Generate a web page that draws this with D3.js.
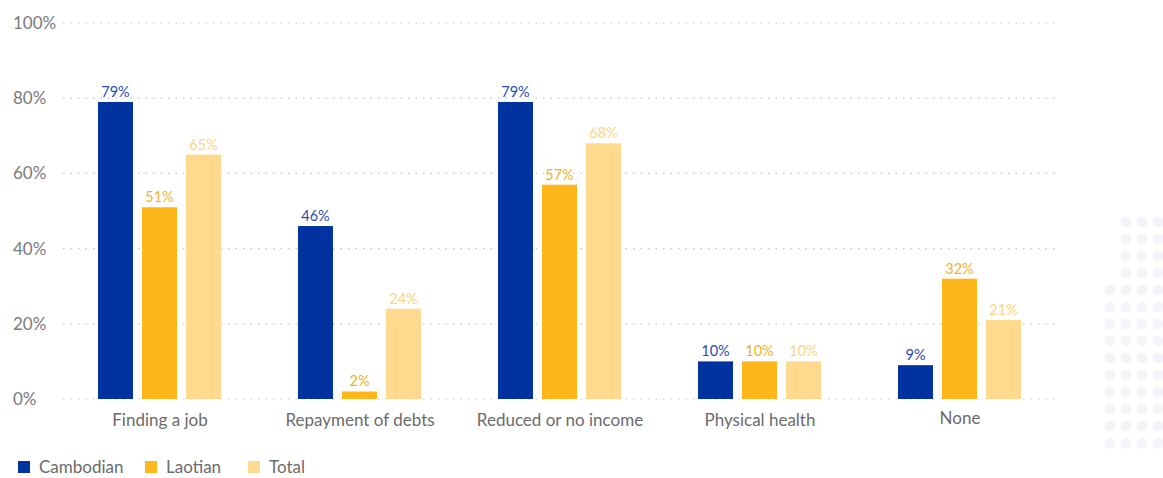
<!DOCTYPE html>
<html>
<head>
<meta charset="utf-8">
<script src="https://cdn.jsdelivr.net/npm/d3@7"></script>
<style>
  body { margin: 0; background: #fff; }
  svg text { font-family: "Lato", "Open Sans", sans-serif; }
</style>
</head>
<body>
<div id="chart"></div>
<script>
// chart data
const categories = ['Finding a job', 'Repayment of debts', 'Reduced or no income', 'Physical health', 'None'];
const seriesNames = ['Cambodian', 'Laotian', 'Total'];
const cambodian = [79, 46, 79, 10, 9];
const laotian = [51, 2, 57, 10, 32];
const total = [65, 24, 68, 10, 21];
const yTicks = [0, 20, 40, 60, 80, 100];

const colors = ['#0033a0', '#fdb71a', '#fed98e'];
const labelColors = ['#2a4db0', '#f5b21c', '#fdd47f'];

let drawChart = function () {
    const w = 1163, h = 478;
    const svg = d3.select('#chart').append('svg')
        .attr('width', w)
        .attr('height', h);

    // faint decorative dot pattern, bottom right
    const deco = svg.append('g');
    d3.range(14).forEach(function (r) {
        d3.range(4).forEach(function (c) {
            if (r < 4 && c < 1) return;
            deco.append('circle')
                .attr('cx', 1110 + c * 16)
                .attr('cy', 222 + r * 17)
                .attr('r', 5.5)
                .attr('fill', '#f4f4f9');
        });
    });

    const x = d3.scaleBand()
        .domain(categories)
        .range([60, 1060]);

    const y = d3.scaleLinear()
        .domain([0, 100])
        .range([399, 23]);

    const xs = d3.scaleBand()
        .domain(seriesNames)
        .range([38, 161])
        .paddingInner(9 / 44);

    // gridlines
    svg.append('g')
        .selectAll('line')
        .data(yTicks)
        .enter()
        .append('line')
        .attr('x1', 63)
        .attr('x2', 1055)
        .attr('y1', d => y(d))
        .attr('y2', d => y(d))
        .attr('stroke', '#c8c8c8')
        .attr('stroke-width', 1.2)
        .attr('stroke-dasharray', '1.5,6');

    // y tick labels
    svg.append('g')
        .selectAll('text')
        .data(yTicks)
        .enter()
        .append('text')
        .attr('x', 13)
        .attr('y', d => y(d))
        .attr('dy', '0.35em')
        .attr('fill', '#7a7a7a')
        .style('font-size', '17px')
        .text(d => d + '%');

    const series = [cambodian, laotian, total];

    series.forEach(function (vals, si) {
        const g = svg.append('g');
        g.selectAll('rect')
            .data(vals)
            .enter()
            .append('rect')
            .attr('x', (d, i) => x(categories[i]) + xs(seriesNames[si]))
            .attr('y', d => y(d))
            .attr('width', xs.bandwidth())
            .attr('height', d => y(0) - y(d))
            .attr('fill', colors[si]);

        g.selectAll('text')
            .data(vals)
            .enter()
            .append('text')
            .attr('x', (d, i) => x(categories[i]) + xs(seriesNames[si]) + xs.bandwidth() / 2)
            .attr('y', d => y(d) - 5)
            .attr('text-anchor', 'middle')
            .attr('fill', labelColors[si])
            .style('font-size', '14.5px')
            .text(d => d + '%');
    });

    // category labels
    svg.append('g')
        .selectAll('text')
        .data(categories)
        .enter()
        .append('text')
        .attr('x', d => x(d) + x.bandwidth() / 2)
        .attr('y', d => d === 'None' ? 424 : 426)
        .attr('text-anchor', 'middle')
        .attr('fill', '#6b6b6b')
        .style('font-size', '17px')
        .text(d => d);

    // legend
    const legendX = [18, 145, 248];
    const legend = svg.append('g')
        .selectAll('g')
        .data(seriesNames)
        .enter()
        .append('g')
        .attr('transform', (d, i) => 'translate(' + legendX[i] + ',461)');

    legend.append('rect')
        .attr('width', 12)
        .attr('height', 12)
        .attr('fill', (d, i) => colors[i]);

    legend.append('text')
        .attr('x', 21)
        .attr('y', 6)
        .attr('dy', '0.35em')
        .attr('fill', '#6b6b6b')
        .style('font-size', '17px')
        .text(d => d);

    svg.node();
}

drawChart();
</script>
</body>
</html>
